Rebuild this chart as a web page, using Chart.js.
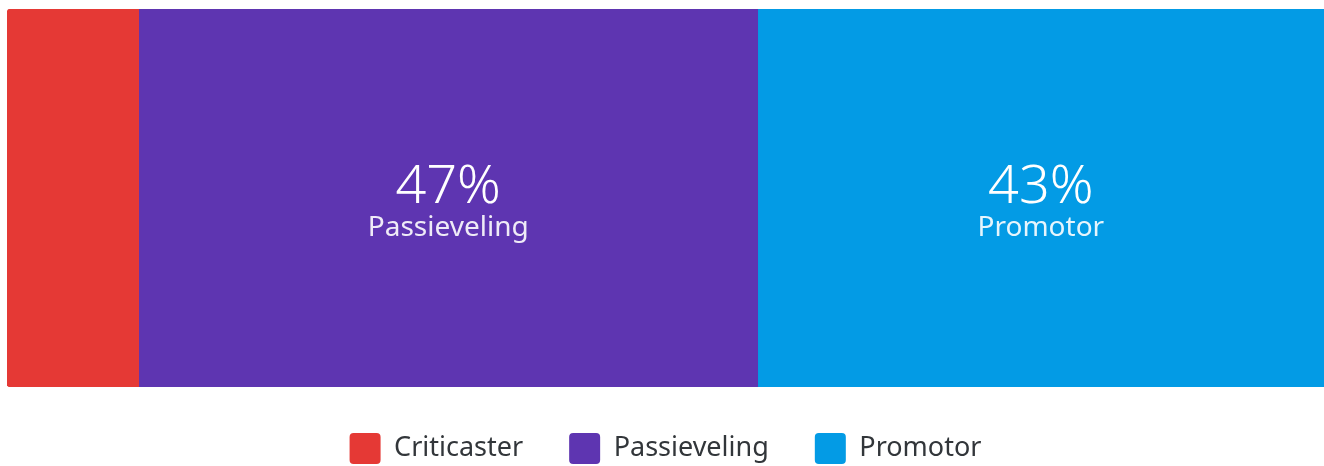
<!DOCTYPE html>
<html>
<head>
<meta charset="utf-8">
<script src="https://cdn.jsdelivr.net/npm/chart.js@4/dist/chart.umd.min.js"></script>
<style>
  html, body { margin: 0; padding: 0; background: #fff; }
  #wrap { width: 1324px; height: 466px; position: relative; }
</style>
</head>
<body>
<div id="wrap"><canvas id="nps-chart"></canvas></div>
<script>
// NPS split
var categories = ['NPS'];
var seriesNames = ['Criticaster', 'Passieveling', 'Promotor'];
var seriesValues = [10, 47, 43];
var seriesColors = ['#E53935', '#5E35B1', '#039BE5'];

var FONT = '"Noto Sans", sans-serif';

// draws "47%" + name in the middle of each wide enough segment
var segmentLabels = {
  id: 'segmentLabels',
  afterDatasetsDraw: function(chart) {
    var ctx = chart.ctx;
    chart.data.datasets.forEach(function(dataset, i) {
      var meta = chart.getDatasetMeta(i);
      meta.data.forEach(function(bar, j) {
        var value = dataset.data[j];
        if (value < 15) return;
        var cx = (bar.x + bar.base) / 2;
        var cy = bar.y;
        ctx.save();
        ctx.textAlign = 'center';
        ctx.textBaseline = 'alphabetic';
        ctx.fillStyle = '#ffffff';
        ctx.font = '300 54px ' + FONT;
        ctx.fillText(value + '%', cx, cy + 5);
        ctx.fillStyle = 'rgba(255,255,255,0.9)';
        ctx.font = '28px ' + FONT;
        ctx.fillText(dataset.label, cx, cy + 38);
        ctx.restore();
      });
    });
  }
};

var datasets = seriesNames.map(function(name, i) {
  return {
    label: name,
    data: [seriesValues[i]],
    backgroundColor: seriesColors[i],
    borderWidth: 0,
    borderSkipped: false,
    borderRadius: i === 0 ? { topLeft: 4, bottomLeft: 4, topRight: 0, bottomRight: 0 } : 0,
    barPercentage: 1,
    categoryPercentage: 1
  };
});

var ctx = document.getElementById('nps-chart').getContext('2d');
var npsChart = new Chart(ctx, {
  type: 'bar',
  data: {
    labels: categories,
    datasets: datasets
  },
  options: {
    indexAxis: 'y',
    responsive: true,
    maintainAspectRatio: false,
    animation: false,
    layout: {
      padding: { left: 7, right: 0, top: 9, bottom: 0 }
    },
    scales: {
      x: { stacked: true, display: false, min: 0, max: 100 },
      y: { stacked: true, display: false }
    },
    plugins: {
      tooltip: { enabled: false },
      legend: {
        display: true,
        position: 'bottom',
        maxHeight: 79,
        labels: {
          useBorderRadius: true,
          borderRadius: 4,
          boxWidth: 31,
          boxHeight: 31,
          padding: 46,
          color: '#32363a',
          font: { family: FONT, size: 27 }
        }
      }
    }
  },
  plugins: [segmentLabels]
});
</script>
</body>
</html>
